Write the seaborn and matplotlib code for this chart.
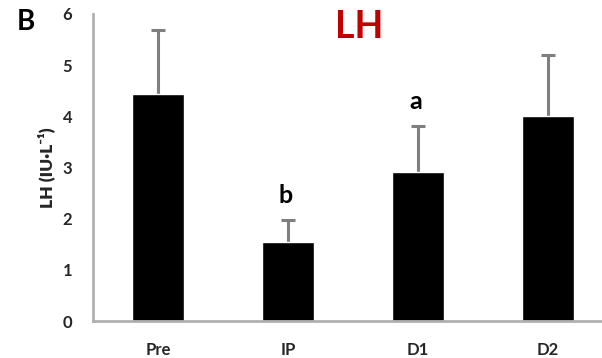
import matplotlib
matplotlib.use("Agg")
import matplotlib.pyplot as plt
import seaborn as sns
import pandas as pd

categories = ["Pre", "IP", "D1", "D2"]
values = [4.43, 1.55, 2.92, 4.01]
errors = [1.25, 0.42, 0.90, 1.19]
letters = ["", "b", "a", ""]

sns.set_style("white")
plt.rcParams['font.family'] = ['Lato', 'DejaVu Sans']

df = pd.DataFrame({"cat": categories, "val": values})

fig = plt.figure(figsize=(6.02, 3.58), dpi=100)
ax = fig.add_axes([93/602, 37/358, 520/602, 307/358])

ax.errorbar(range(len(categories)), values, yerr=errors, fmt="none",
            ecolor="#7f7f7f", elinewidth=2.2, capsize=5, capthick=2.2, zorder=1)
sns.barplot(data=df, x="cat", y="val", color="black", width=0.4, ax=ax,
            saturation=1, errorbar=None, zorder=2)

for i, (v, e, l) in enumerate(zip(values, errors, letters)):
    if l:
        ax.text(i - 0.02, v + e + 0.25, l, ha="center", va="bottom", fontsize=18,
                fontweight="bold", color="black")

ax.set_xlim(-0.5, 3.5)
ax.set_ylim(0, 6)
ax.set_yticks(range(0, 7))
ax.set_xticks([-0.5, 0.5, 1.5, 2.5], minor=False)
ax.set_xticklabels([])
ax.set_xticks(range(4), minor=True)
ax.set_xticklabels(categories, minor=True, fontsize=12, fontweight="bold")
ax.tick_params(axis="x", which="minor", length=0, pad=15)
ax.tick_params(axis="x", which="major", length=5, width=1.5, color="#b0b0b0", direction="out")
ax.tick_params(axis="y", length=5, width=1.5, color="#b0b0b0", direction="out", pad=10)
for lab in ax.get_yticklabels():
    lab.set_fontsize(12)
    lab.set_fontweight("bold")

for s in ["top", "right"]:
    ax.spines[s].set_visible(False)
for s in ["left", "bottom"]:
    ax.spines[s].set_color("#b0b0b0")
    ax.spines[s].set_linewidth(2)

ax.set_xlabel("")
ax.set_ylabel("LH (IU·L⁻¹)", fontsize=12.5, fontweight="heavy", labelpad=5,
              family=['Lato', 'DejaVu Sans'])

fig.text(359/602, 1 - 27/358, "LH", ha="center", va="center", fontsize=27,
         fontweight="bold", color="#c00000")
fig.text(26/602, 1 - 22/358, "B", ha="center", va="center", fontsize=20,
         fontweight="bold", color="black")

fig.savefig("out.png", dpi=100)
